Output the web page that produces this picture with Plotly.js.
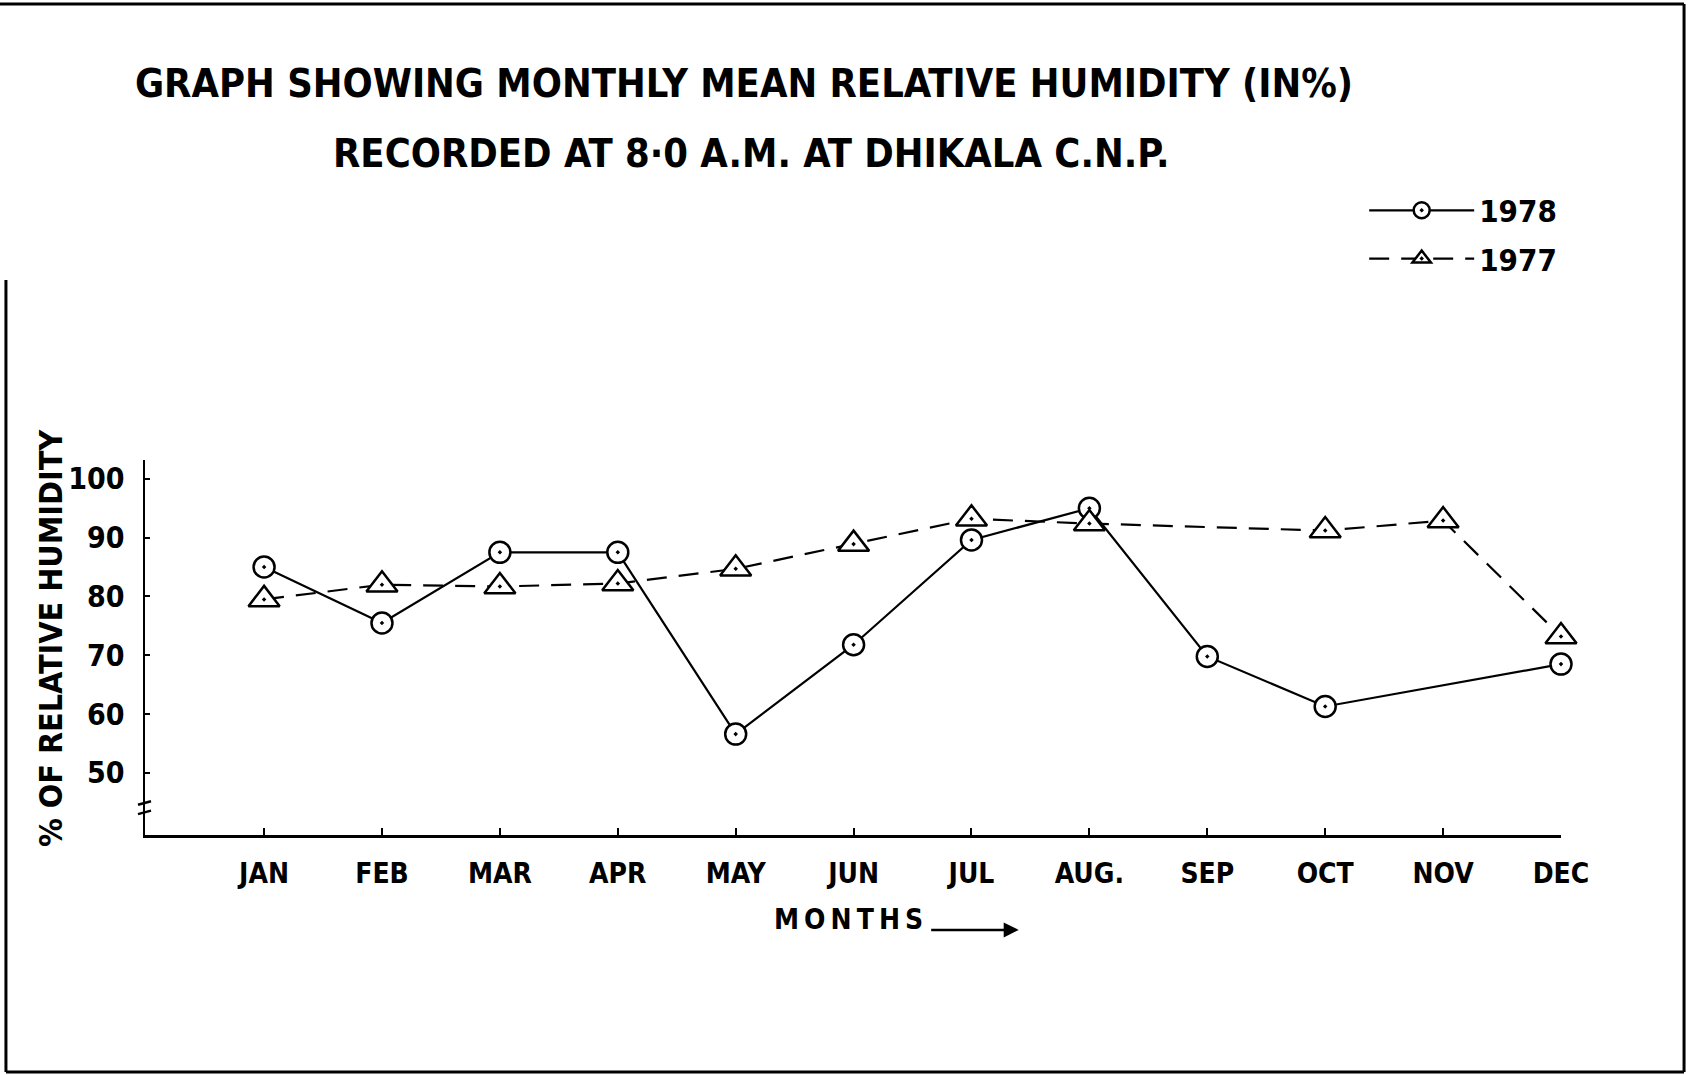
<!DOCTYPE html>
<html>
<head>
<meta charset="utf-8">
<script src="https://cdn.plot.ly/plotly-3.0.1.min.js"></script>
<style>html,body{margin:0;padding:0;background:#fff;}#chart{width:1691px;height:1075px;}</style>
</head>
<body>
<div id="chart"></div>
<script>
var months = ["JAN","FEB","MAR","APR","MAY","JUN","JUL","AUG.","SEP","OCT","NOV","DEC"];
var rh1978 = [85, 75.5, 87.5, 87.5, 56.6, 71.8, 89.6, 95, 69.8, 61.3, null, 68.5];
var rh1977 = [79.5, 82, 81.7, 82.2, 84.7, 88.9, 93.2, 92.4, null, 91.2, 92.9, 73.2];
var yTicks = [50, 60, 70, 80, 90, 100];

var FONT = '"Liberation Sans Narrow", "DejaVu Sans Condensed", "Liberation Sans", Arial, sans-serif';
var idx = months.map(function(m, i){ return i; });
var bold = function(s){ return '<b>' + s + '</b>'; };

var traces = [
  {
    x: idx, y: rh1978, name: bold('1978'), type: 'scatter', mode: 'lines+markers',
    connectgaps: true, legendgroup: 'a', cliponaxis: false,
    line: {color: '#000', width: 2.2},
    marker: {symbol: 'circle-dot', size: 21, color: '#fff', line: {color: '#000', width: 2.5}}
  },
  {
    x: idx, y: rh1977, name: bold('1977'), type: 'scatter', mode: 'lines+markers',
    connectgaps: true, legendgroup: 'b', cliponaxis: false,
    line: {color: '#000', width: 2.2, dash: '20px,12px'},
    marker: {symbol: 'triangle-up-dot', size: 27, color: '#fff', line: {color: '#000', width: 2.5}}
  }
];

var frame = {type: 'line', xref: 'paper', yref: 'paper', line: {color: '#000', width: 3}};
function ln(o){ var s = JSON.parse(JSON.stringify(frame)); for (var k in o) s[k] = o[k]; return s; }

var layout = {
  width: 1691, height: 1075,
  margin: {l: 145, r: 130, t: 460, b: 240},
  paper_bgcolor: '#fff', plot_bgcolor: '#fff',
  font: {family: FONT, color: '#000'},
  showlegend: true,
  title: {
    text: bold('GRAPH SHOWING MONTHLY MEAN RELATIVE HUMIDITY (IN%)'),
    x: 0.44, xanchor: 'center', xref: 'container',
    y: 0.923, yanchor: 'middle', yref: 'container',
    font: {size: 39.5, family: FONT, color: '#000'}
  },
  xaxis: {
    range: [-1.01, 11], tickmode: 'array', tickvals: idx, ticktext: months.map(bold),
    showgrid: false, zeroline: false, showline: true, linecolor: '#000', linewidth: 2.5,
    ticks: 'inside', ticklen: 7, tickwidth: 2, tickcolor: '#000',
    tickfont: {size: 28, family: FONT, color: '#000'}, ticklabelstandoff: 12
  },
  yaxis: {
    range: [39.45, 103.2], tickmode: 'array', tickvals: yTicks, ticktext: yTicks.map(function(v){ return bold(String(v)); }),
    showgrid: false, zeroline: false, showline: true, linecolor: '#000', linewidth: 2.5,
    ticks: 'inside', ticklen: 5, tickwidth: 2, tickcolor: '#000',
    tickfont: {size: 30, family: FONT, color: '#000'}, ticklabelstandoff: 12
  },
  legend: {
    x: 0.861, xanchor: 'left', y: 1.737, yanchor: 'top',
    bgcolor: 'rgba(0,0,0,0)', itemwidth: 105, tracegroupgap: 5,
    font: {size: 31, family: FONT, color: '#000'}
  },
  annotations: [
    {text: bold('RECORDED AT 8·0 A.M. AT DHIKALA C.N.P.'), xref: 'paper', yref: 'paper',
     x: 0.428, y: 1.819, xanchor: 'center', yanchor: 'middle', showarrow: false,
     font: {size: 39.5, family: FONT, color: '#000'}},
    {text: bold('% OF RELATIVE HUMIDITY'), xref: 'paper', yref: 'paper',
     x: -0.0664, y: 0.525, xanchor: 'center', yanchor: 'middle', textangle: -90, showarrow: false,
     font: {size: 32, family: FONT, color: '#000'}},
    {text: bold('M\u2009O\u2009N\u2009T\u2009H\u2009S'), xref: 'paper', yref: 'paper',
     x: 0.497, y: -0.224, xanchor: 'center', yanchor: 'middle', showarrow: false,
     font: {size: 28, family: FONT, color: '#000'}},
    {text: '', xref: 'paper', yref: 'paper', x: 0.617, y: -0.253, ax: -89, ay: 0,
     showarrow: true, arrowhead: 2, arrowsize: 1.2, arrowwidth: 2.5, arrowcolor: '#000'}
  ],
  shapes: [
    {type: 'line', xref: 'paper', xsizemode: 'pixel', xanchor: 0, x0: -7, x1: 6, yref: 'y', y0: 44.6, y1: 45.2, line: {color: '#000', width: 2.5}},
    {type: 'line', xref: 'paper', xsizemode: 'pixel', xanchor: 0, x0: -7, x1: 6, yref: 'y', y0: 43.0, y1: 43.6, line: {color: '#000', width: 2.5}},
    ln({x0: -0.1024, x1: 1.0869, y0: 2.216, y1: 2.216}),
    ln({x0: 1.0869, x1: 1.0869, y0: 2.216, y1: -0.632}),
    ln({x0: -0.0982, x1: 1.0869, y0: -0.632, y1: -0.632}),
    ln({x0: -0.0982, x1: -0.0982, y0: 1.48, y1: -0.632})
  ]
};

Plotly.newPlot('chart', traces, layout, {displayModeBar: false, staticPlot: true});
</script>
</body>
</html>
